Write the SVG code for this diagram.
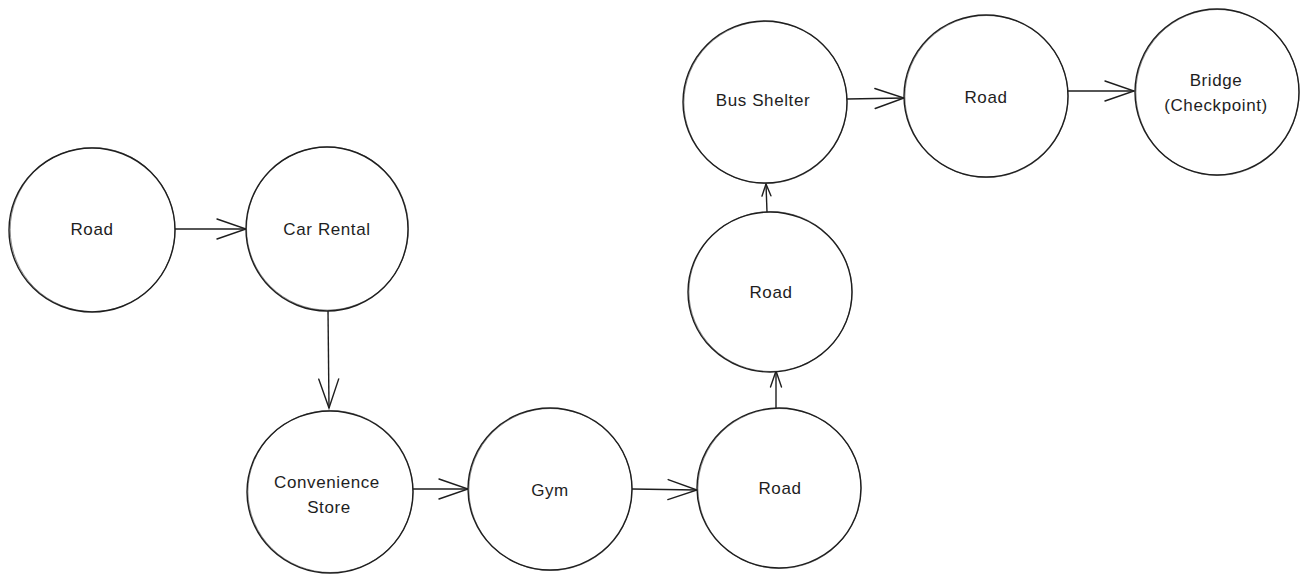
<svg xmlns="http://www.w3.org/2000/svg" width="1309" height="583" viewBox="0 0 1309 583">
<style>
.node ellipse{fill:#fff;stroke:#1e1e1e;stroke-width:1.4}
.node ellipse.s2{fill:none;stroke-width:0.7;opacity:0.7}
.node text{font-family:"Liberation Sans",Arial,sans-serif;font-size:17px;fill:#1e1e1e;text-anchor:middle;dominant-baseline:central;letter-spacing:0.6px}
.edges line{stroke:#1e1e1e;stroke-width:1.4;fill:none}
</style>
<defs>
<marker id="arr" markerUnits="userSpaceOnUse" markerWidth="40" markerHeight="30" viewBox="-32 -15 40 30" refX="0" refY="0" orient="auto">
<path d="M-29,-10 L0,0 L-29,10" fill="none" stroke="#1e1e1e" stroke-width="1.4" stroke-linecap="round"/>
</marker>
<marker id="arr-s" markerUnits="userSpaceOnUse" markerWidth="30" markerHeight="20" viewBox="-24 -10 30 20" refX="0" refY="0" orient="auto">
<path d="M-16,-5.5 L0,0 L-16,5.5" fill="none" stroke="#1e1e1e" stroke-width="1.4" stroke-linecap="round"/>
</marker>
<marker id="arr-xs" markerUnits="userSpaceOnUse" markerWidth="30" markerHeight="20" viewBox="-24 -10 30 20" refX="0" refY="0" orient="auto">
<path d="M-12,-4.5 L0,0 L-12,4.5" fill="none" stroke="#1e1e1e" stroke-width="1.4" stroke-linecap="round"/>
</marker>
</defs>
<rect width="1309" height="583" fill="#fff"/>
<g class="edges" id="connectors">
<line x1="175" y1="229" x2="246" y2="229" marker-end="url(#arr)"/>
<line x1="328" y1="310" x2="329" y2="408" marker-end="url(#arr)"/>
<line x1="413" y1="489" x2="468" y2="489" marker-end="url(#arr)"/>
<line x1="632" y1="489" x2="697" y2="490" marker-end="url(#arr)"/>
<line x1="776" y1="408" x2="776" y2="371" marker-end="url(#arr-s)"/>
<line x1="767" y1="212" x2="766" y2="184" marker-end="url(#arr-xs)"/>
<line x1="847" y1="99" x2="904" y2="98" marker-end="url(#arr)"/>
<line x1="1067" y1="91" x2="1134" y2="91" marker-end="url(#arr)"/>
</g>
<g class="node" id="road1">
<ellipse cx="92" cy="230" rx="83" ry="82"/><ellipse class="s2" cx="92.6" cy="229.6" rx="82.4" ry="82"/>
<text x="92" y="229">Road</text>
</g>
<g class="node" id="car-rental">
<ellipse cx="327" cy="229" rx="81" ry="82"/><ellipse class="s2" cx="327.5" cy="228.5" rx="81" ry="81.6"/>
<text x="327" y="229">Car Rental</text>
</g>
<g class="node" id="convenience-store">
<ellipse cx="330" cy="492" rx="83" ry="81"/><ellipse class="s2" cx="330.5" cy="491.5" rx="82.6" ry="81"/>
<text x="327" y="482">Convenience</text>
<text x="329" y="507">Store</text>
</g>
<g class="node" id="gym">
<ellipse cx="550" cy="489" rx="82" ry="81"/><ellipse class="s2" cx="550.5" cy="489.5" rx="81.6" ry="81"/>
<text x="550" y="490">Gym</text>
</g>
<g class="node" id="road2">
<ellipse cx="779" cy="488" rx="82" ry="80"/><ellipse class="s2" cx="779.5" cy="488.5" rx="81.6" ry="80"/>
<text x="780" y="488">Road</text>
</g>
<g class="node" id="road3">
<ellipse cx="770" cy="292" rx="82" ry="80"/><ellipse class="s2" cx="770.5" cy="291.5" rx="81.6" ry="80"/>
<text x="771" y="292">Road</text>
</g>
<g class="node" id="bus-shelter">
<ellipse cx="765" cy="102" rx="82" ry="81"/><ellipse class="s2" cx="765.5" cy="102.5" rx="81.6" ry="81"/>
<text x="763" y="100">Bus Shelter</text>
</g>
<g class="node" id="road4">
<ellipse cx="986" cy="96" rx="82" ry="81"/><ellipse class="s2" cx="986.5" cy="96.5" rx="81.6" ry="81"/>
<text x="986" y="97">Road</text>
</g>
<g class="node" id="bridge">
<ellipse cx="1217" cy="92" rx="82" ry="83"/><ellipse class="s2" cx="1217.5" cy="92.5" rx="81.6" ry="83"/>
<text x="1216" y="80">Bridge</text>
<text x="1216" y="105">(Checkpoint)</text>
</g>
</svg>
